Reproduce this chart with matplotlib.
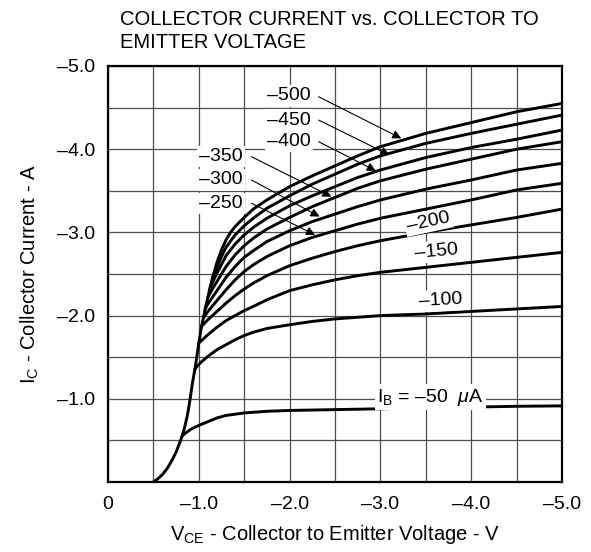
import matplotlib
matplotlib.use('Agg')
import matplotlib.pyplot as plt
import numpy as np

plt.rcParams['font.family'] = ['Liberation Sans', 'DejaVu Sans']
plt.rcParams['mathtext.fontset'] = 'custom'
plt.rcParams['mathtext.rm'] = 'Liberation Sans'
plt.rcParams['mathtext.it'] = 'Liberation Sans:italic'

# shared rising part (|VCE| in V, |IC| in A)
rise_v = [0.5, 0.55, 0.6, 0.65, 0.7, 0.75, 0.8, 0.815, 0.84, 0.87, 0.89, 0.91, 0.93, 0.956,
          0.98, 1.0, 1.03, 1.05, 1.07, 1.1, 1.12, 1.15]
rise_i = [0.0, 0.04, 0.09, 0.16, 0.25, 0.36, 0.5, 0.55, 0.64, 0.78, 0.9, 1.04, 1.19, 1.35,
          1.52, 1.67, 1.87, 1.97, 2.08, 2.22, 2.32, 2.45]

# curves per base current, starting where they leave the rising part
ib50_v = [0.815, 0.85, 0.9, 0.95, 1.0, 1.1, 1.2, 1.3, 1.4, 1.5, 1.75, 2.0, 2.5, 3.0, 3.5, 4.0, 4.5, 5.0]
ib50_i = [0.55, 0.585, 0.625, 0.655, 0.68, 0.725, 0.77, 0.80, 0.815, 0.83, 0.85, 0.86, 0.87, 0.88,
          0.89, 0.90, 0.91, 0.915]
ib100_v = [0.956, 0.98, 1.03, 1.1, 1.2, 1.3, 1.4, 1.5, 1.6, 1.75, 2.0, 2.25, 2.5, 3.0, 3.5, 4.0, 4.5, 5.0]
ib100_i = [1.35, 1.39, 1.445, 1.51, 1.59, 1.65, 1.71, 1.76, 1.80, 1.845, 1.89, 1.93, 1.96, 2.0,
           2.02, 2.05, 2.08, 2.11]
ib150_v = [1.0, 1.05, 1.1, 1.2, 1.3, 1.4, 1.5, 1.6, 1.75, 2.0, 2.25, 2.5, 2.75, 3.0, 3.5, 4.0, 4.5, 5.0]
ib150_i = [1.67, 1.72, 1.77, 1.86, 1.94, 2.0, 2.06, 2.11, 2.19, 2.30, 2.37, 2.43, 2.48, 2.52,
           2.58, 2.64, 2.70, 2.76]
ib200_v = [1.03, 1.1, 1.2, 1.3, 1.4, 1.5, 1.6, 1.75, 2.0, 2.25, 2.5, 2.75, 3.0, 3.5, 4.0, 4.5, 5.0]
ib200_i = [1.87, 1.95, 2.05, 2.15, 2.24, 2.32, 2.39, 2.48, 2.60, 2.69, 2.77, 2.84, 2.90, 3.00,
           3.09, 3.18, 3.28]
ib250_v = [1.05, 1.1, 1.2, 1.3, 1.4, 1.5, 1.6, 1.75, 2.0, 2.25, 2.5, 2.75, 3.0, 3.5, 4.0, 4.5, 5.0]
ib250_i = [1.97, 2.05, 2.18, 2.31, 2.43, 2.53, 2.61, 2.71, 2.84, 2.94, 3.02, 3.10, 3.17, 3.28,
           3.39, 3.51, 3.59]
ib300_v = [1.07, 1.1, 1.2, 1.3, 1.4, 1.5, 1.6, 1.75, 2.0, 2.25, 2.5, 2.75, 3.0, 3.5, 4.0, 4.5, 5.0]
ib300_i = [2.08, 2.14, 2.30, 2.46, 2.59, 2.70, 2.78, 2.89, 3.02, 3.13, 3.22, 3.31, 3.39, 3.52,
           3.63, 3.75, 3.83]
ib350_v = [1.1, 1.15, 1.2, 1.3, 1.4, 1.5, 1.6, 1.75, 2.0, 2.25, 2.5, 2.75, 3.0, 3.5, 4.0, 4.5, 5.0]
ib350_i = [2.22, 2.32, 2.41, 2.59, 2.73, 2.84, 2.93, 3.04, 3.18, 3.31, 3.42, 3.53, 3.62, 3.76,
           3.88, 4.00, 4.09]
ib400_v = [1.12, 1.16, 1.2, 1.3, 1.4, 1.5, 1.6, 1.75, 2.0, 2.25, 2.5, 2.75, 3.0, 3.5, 4.0, 4.5, 5.0]
ib400_i = [2.32, 2.42, 2.51, 2.72, 2.86, 2.97, 3.06, 3.17, 3.32, 3.44, 3.55, 3.66, 3.75, 3.90,
           4.02, 4.12, 4.23]
ib450_v = [1.15, 1.2, 1.25, 1.3, 1.4, 1.5, 1.6, 1.75, 2.0, 2.25, 2.5, 2.75, 3.0, 3.5, 4.0, 4.5, 5.0]
ib450_i = [2.45, 2.58, 2.71, 2.82, 2.97, 3.08, 3.17, 3.29, 3.44, 3.58, 3.70, 3.82, 3.92, 4.07,
           4.19, 4.30, 4.41]
ib500_v = rise_v + [1.2, 1.25, 1.3, 1.35, 1.4, 1.5, 1.6, 1.75, 2.0, 2.25, 2.5, 2.75, 3.0, 3.5,
                    4.0, 4.5, 5.0]
ib500_i = rise_i + [2.64, 2.79, 2.91, 3.00, 3.07, 3.18, 3.28, 3.39, 3.55, 3.68, 3.80, 3.92, 4.03,
                    4.19, 4.32, 4.45, 4.55]

x_ticks = [0, 1, 2, 3, 4, 5]
x_tick_labels = ['0', '\u20131.0', '\u20132.0', '\u20133.0', '\u20134.0', '\u20135.0']
y_ticks = [1, 2, 3, 4, 5]
y_tick_labels = ['\u20131.0', '\u20132.0', '\u20133.0', '\u20134.0', '\u20135.0']

arrow_labels = ['\u2013500', '\u2013450', '\u2013400', '\u2013350', '\u2013300', '\u2013250']

fig = plt.figure(figsize=(5.91, 5.52), dpi=100)
ax = fig.add_axes([108 / 591, 1 - 482 / 552, 454 / 591, 416 / 552])

curves = [(ib50_v, ib50_i), (ib100_v, ib100_i), (ib150_v, ib150_i), (ib200_v, ib200_i),
          (ib250_v, ib250_i), (ib300_v, ib300_i), (ib350_v, ib350_i), (ib400_v, ib400_i),
          (ib450_v, ib450_i), (ib500_v, ib500_i)]
for v, i in curves:
    ax.plot(v, i, color='black', lw=2.1, solid_capstyle='round', solid_joinstyle='round', zorder=3)

ax.set_xlim(0, 5)
ax.set_ylim(0, 5)
ax.set_xticks(x_ticks)
ax.set_xticklabels(x_tick_labels, fontsize=14)
ax.set_yticks(y_ticks)
ax.set_yticklabels(y_tick_labels, fontsize=14)
ax.set_xticks(np.arange(0.5, 5, 1.0), minor=True)
ax.set_yticks(np.arange(0.5, 5, 1.0), minor=True)
ax.tick_params(which='both', length=0)
ax.tick_params(axis='x', pad=10)
ax.tick_params(axis='y', pad=9)
ax.grid(which='both', color='#4d4d4d', lw=0.9, zorder=1)
ax.set_axisbelow(True)
for s in ax.spines.values():
    s.set_linewidth(1.6)

ax.set_xlabel(r'V$_{\rm CE}$ - Collector to Emitter Voltage - V', fontsize=14.5, labelpad=7)
ax.set_ylabel(r'I$_{\rm C}$ - Collector Current - A', fontsize=14.5, labelpad=12)

fig.text(120 / 591, 1 - 10 / 552, 'COLLECTOR CURRENT vs. COLLECTOR TO\nEMITTER VOLTAGE',
         ha='left', va='top', fontsize=14.5, linespacing=1.25)

# arrowed labels
label_pos = [(1.99, 4.64), (1.99, 4.35), (1.99, 4.09), (1.24, 3.91), (1.24, 3.63), (1.24, 3.35)]
arrow_start = [(2.32, 4.63), (2.32, 4.35), (2.32, 4.09), (1.58, 3.91), (1.58, 3.63), (1.58, 3.35)]
arrow_tip = [(3.23, 4.13), (3.10, 3.93), (2.95, 3.74), (2.46, 3.43), (2.33, 3.19), (2.28, 2.97)]
box = dict(fc='white', ec='none', pad=1.5)
for lab, p, a, b in zip(arrow_labels, label_pos, arrow_start, arrow_tip):
    ax.text(p[0], p[1], lab, ha='center', va='center', fontsize=14, bbox=box, zorder=4)
    ax.annotate('', xy=b, xytext=a,
                arrowprops=dict(arrowstyle='-|>', lw=0.8, color='black', mutation_scale=13,
                                shrinkA=0, shrinkB=0), zorder=5)

ax.text(3.53, 3.13, '\u2013200', ha='center', va='center', fontsize=14, rotation=12, bbox=box, zorder=4)
ax.text(3.62, 2.77, '\u2013150', ha='center', va='center', fontsize=14, rotation=5, bbox=box, zorder=4)
ax.text(3.66, 2.18, '\u2013100', ha='center', va='center', fontsize=14, rotation=3, bbox=box, zorder=4)
ax.text(3.55, 1.02, 'I$_{\\rm B}$ = \u201350  $\\mu$A',
        ha='center', va='center', fontsize=14, bbox=box, zorder=4)

fig.savefig('out.png', dpi=100)
